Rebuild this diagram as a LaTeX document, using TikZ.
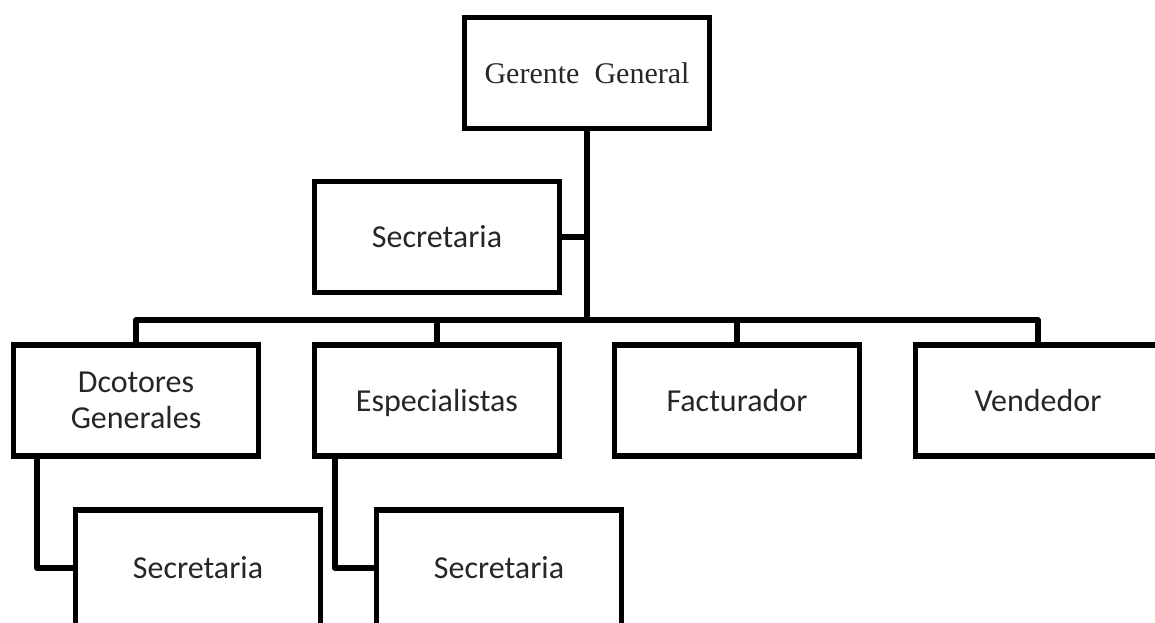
\documentclass[tikz,border=0pt]{standalone}
\usepackage{fontspec}
\setmainfont{Liberation Serif}
\newfontfamily\calibri{Carlito}
\tikzset{
box/.style={rectangle, draw, line width=4.25pt, inner sep=0pt,
  minimum width=183.75pt, minimum height=83.25pt, align=center,
  text=black!85, font=\calibri\fontsize{24}{26.5}\selectfont},
subbox/.style={box, minimum height=87pt},
link/.style={line width=4.25pt, line join=round}
}
\begin{document}
\begin{tikzpicture}[x=0.75pt, y=-0.75pt]
\clip (0,0) rectangle (1155,622);
\node [box, font=\fontsize{22.5}{26}\selectfont] (GG) at (587,73) {Gerente~~General};
\node [box] (SEC) at (437,237) {Secretaria};
\node [box] (DOC) at (136,400.5) {Dcotores\\Generales};
\node [box, text depth=0pt] (ESP) at (437,400.5) {Especialistas};
\node [box] (FAC) at (737,400.5) {Facturador};
\node [box] (VEN) at (1038,400.5) {Vendedor};
\node [subbox] (SECD) at (198,568) {Secretaria};
\node [subbox] (SECE) at (499,568) {Secretaria};
\coordinate (bus) at (587,320);

\draw [link] (GG.south) -- (bus);
\draw [link] (SEC.east) -- (SEC.east -| GG.south);
\draw [link] (DOC.north) |- (bus) -| (VEN.north);
\draw [link] (ESP.north) -- (ESP.north |- bus);
\draw [link] (FAC.north) -- (FAC.north |- bus);
\draw [link] ([xshift=19.5pt]DOC.south west) |- (SECD.west);
\draw [link] ([xshift=17.25pt]ESP.south west) |- (SECE.west);
\end{tikzpicture}
\end{document}
